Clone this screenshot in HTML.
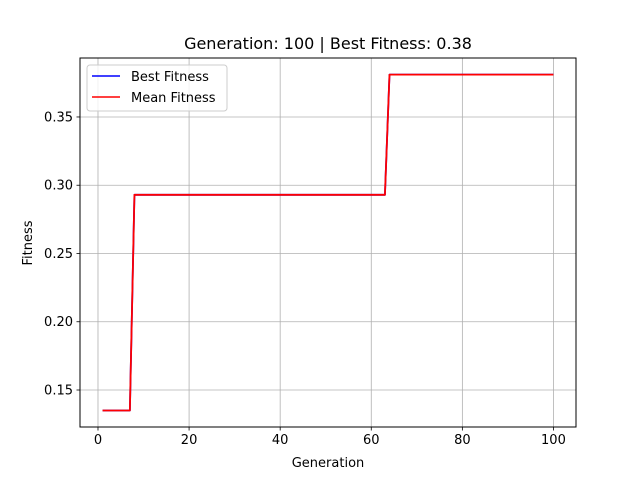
<!DOCTYPE html>
<html><head><meta charset="utf-8"><style>
html,body{margin:0;padding:0;background:#fff;}
svg{display:block;font-family:"DejaVu Sans","Liberation Sans",sans-serif;}
</style></head><body>
<svg id="chart" width="640" height="480" xmlns="http://www.w3.org/2000/svg">
<rect width="640" height="480" fill="#fff"/>
<g id="grid"></g>
<g id="series"></g>
<rect x="80" y="58" width="496" height="369" fill="none" stroke="#000" stroke-width="1"/>
<g id="ticks"></g>
<text x="328" y="49" font-size="16" text-anchor="middle">Generation: 100 | Best Fitness: 0.38</text>
<text x="328" y="467" font-size="13" text-anchor="middle">Generation</text>
<text x="32" y="243" font-size="13" text-anchor="middle" transform="rotate(-90 32 243)">Fitness</text>
<g>
<rect x="87" y="65" width="140" height="46" rx="3" fill="#fff" fill-opacity="0.8" stroke="#ccc"/>
<line x1="92" y1="76" x2="120" y2="76" stroke="#0000ff" stroke-width="1.6"/>
<text x="131" y="81" font-size="13">Best Fitness</text>
<line x1="92" y1="97" x2="120" y2="97" stroke="#ff0000" stroke-width="1.6"/>
<text x="131" y="102" font-size="13">Mean Fitness</text>
</g>
</svg>
<script>
const xTicks = [0, 20, 40, 60, 80, 100];
const yTicks = [0.15, 0.20, 0.25, 0.30, 0.35];
const yTickLabels = ["0.15", "0.20", "0.25", "0.30", "0.35"];
const generations = [1,2,3,4,5,6,7,8,9,10,11,12,13,14,15,16,17,18,19,20,21,22,23,24,25,26,27,28,29,30,31,32,33,34,35,36,37,38,39,40,41,42,43,44,45,46,47,48,49,50,51,52,53,54,55,56,57,58,59,60,61,62,63,64,65,66,67,68,69,70,71,72,73,74,75,76,77,78,79,80,81,82,83,84,85,86,87,88,89,90,91,92,93,94,95,96,97,98,99,100];
const bestFitness = [0.135,0.135,0.135,0.135,0.135,0.135,0.135,0.293,0.293,0.293,0.293,0.293,0.293,0.293,0.293,0.293,0.293,0.293,0.293,0.293,0.293,0.293,0.293,0.293,0.293,0.293,0.293,0.293,0.293,0.293,0.293,0.293,0.293,0.293,0.293,0.293,0.293,0.293,0.293,0.293,0.293,0.293,0.293,0.293,0.293,0.293,0.293,0.293,0.293,0.293,0.293,0.293,0.293,0.293,0.293,0.293,0.293,0.293,0.293,0.293,0.293,0.293,0.293,0.381,0.381,0.381,0.381,0.381,0.381,0.381,0.381,0.381,0.381,0.381,0.381,0.381,0.381,0.381,0.381,0.381,0.381,0.381,0.381,0.381,0.381,0.381,0.381,0.381,0.381,0.381,0.381,0.381,0.381,0.381,0.381,0.381,0.381,0.381,0.381,0.381];
const meanFitness = [0.135,0.135,0.135,0.135,0.135,0.135,0.135,0.293,0.293,0.293,0.293,0.293,0.293,0.293,0.293,0.293,0.293,0.293,0.293,0.293,0.293,0.293,0.293,0.293,0.293,0.293,0.293,0.293,0.293,0.293,0.293,0.293,0.293,0.293,0.293,0.293,0.293,0.293,0.293,0.293,0.293,0.293,0.293,0.293,0.293,0.293,0.293,0.293,0.293,0.293,0.293,0.293,0.293,0.293,0.293,0.293,0.293,0.293,0.293,0.293,0.293,0.293,0.293,0.381,0.381,0.381,0.381,0.381,0.381,0.381,0.381,0.381,0.381,0.381,0.381,0.381,0.381,0.381,0.381,0.381,0.381,0.381,0.381,0.381,0.381,0.381,0.381,0.381,0.381,0.381,0.381,0.381,0.381,0.381,0.381,0.381,0.381,0.381,0.381,0.381];

const NS = "http://www.w3.org/2000/svg";
const L = 80, R = 576, T = 58, B = 427;
const xMin = -3.95, xMax = 104.95;
const yMin = 0.1229, yMax = 0.3932;
function xs(v){ return L + (v - xMin) / (xMax - xMin) * (R - L); }
function ys(v){ return B - (v - yMin) / (yMax - yMin) * (B - T); }
function mk(tag, attrs, parent){
  const e = document.createElementNS(NS, tag);
  for (const k in attrs) e.setAttribute(k, attrs[k]);
  parent.appendChild(e);
  return e;
}
const grid = document.getElementById('grid');
const ticks = document.getElementById('ticks');
xTicks.forEach(v => {
  const x = xs(v);
  const g = mk('line', {x1:x, x2:x, y1:T, y2:B, stroke:'#b0b0b0', 'stroke-width':0.8}, grid);
  
  
  const t = mk('line', {x1:x, x2:x, y1:B, y2:B+3.5, stroke:'#000', 'stroke-width':0.8}, ticks);
  
  
  const lb = mk('text', {x:x, y:B+17, 'font-size':13, 'text-anchor':'middle'}, ticks);
  lb.textContent = String(v);
  
  
});
yTicks.forEach((v, i) => {
  const y = ys(v);
  const g = mk('line', {x1:L, x2:R, y1:y, y2:y, stroke:'#b0b0b0', 'stroke-width':0.8}, grid);
  
  
  const t = mk('line', {x1:L-3.5, x2:L, y1:y, y2:y, stroke:'#000', 'stroke-width':0.8}, ticks);
  
  
  const lb = mk('text', {x:L-7, y:y+4.5, 'font-size':13, 'text-anchor':'end'}, ticks);
  lb.textContent = yTickLabels[i];
  
  
});
const series = document.getElementById('series');
function line(vals, color, name){
  const pts = generations.map((g, i) => xs(g).toFixed(2) + ',' + ys(vals[i]).toFixed(2)).join(' ');
  const p = mk('polyline', {points:pts, fill:'none', stroke:color, 'stroke-width':1.8, 'stroke-linejoin':'round'}, series);
  
  
}
line(bestFitness, '#0000ff', 'best-fitness-line');
line(meanFitness, '#ff0000', 'mean-fitness-line');
</script>
</body></html>
